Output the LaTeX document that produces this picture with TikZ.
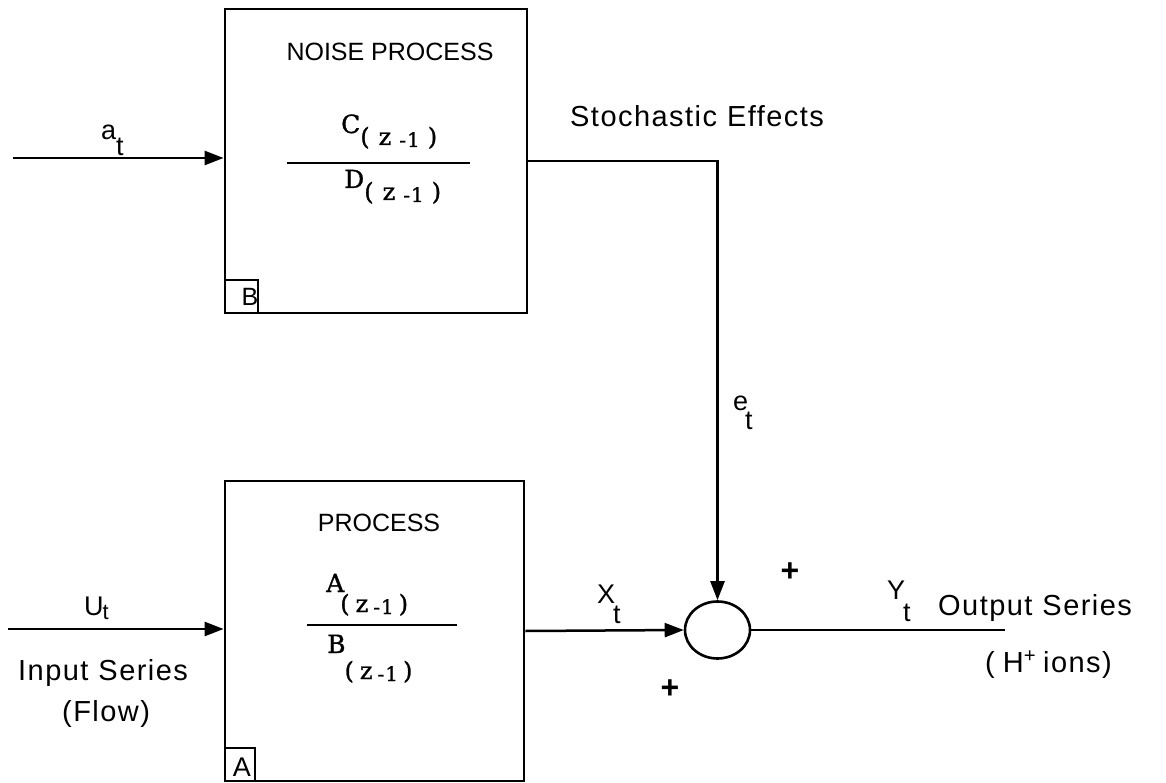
\documentclass[tikz,border=0pt]{standalone}
\usepackage{fontspec}
\newfontfamily\hv{Liberation Sans}
\newfontfamily\hvs[LetterSpace=5]{Liberation Sans}
\newfontfamily\fser[FakeBold=1.2]{DejaVu Serif}
\usetikzlibrary{arrows.meta,shapes.geometric}
\newcommand{\zsub}[4]{\raisebox{#1}{\fontsize{24}{28}\selectfont(\kern#2 z\kern#3\raisebox{-2pt}{\fontsize{20}{24}\selectfont -\kern1pt 1}\kern#4)}}
\begin{document}
\begin{tikzpicture}[x=1pt,y=-1pt,
  blk/.style={draw, line width=2.8pt, inner sep=0pt},
  conn/.style={line width=2.5pt, -{Triangle[length=19pt,width=14pt]}},
  wire/.style={line width=2.5pt},
  lbl/.style={anchor=base west, inner sep=0pt, font=\hvs\fontsize{29}{33}\selectfont},
  sym/.style={anchor=base west, inner sep=0pt, font=\hv\fontsize{27}{31}\selectfont},
  frm/.style={anchor=base west, inner sep=0pt, font=\fser\fontsize{25}{29}\selectfont},
  ttl/.style={inner sep=0pt, font=\hv\fontsize{25}{29}\selectfont},
  pls/.style={inner sep=0pt, font=\hv\bfseries\fontsize{32}{36}\selectfont}]
\useasboundingbox (0,0) rectangle (1166,783);

% blocks
\node[blk, minimum width=302pt, minimum height=304pt] (noise) at (376,161) {};
\node[blk, minimum width=299pt, minimum height=300pt] (proc) at (374.5,631) {};
\node[draw, ellipse, line width=2.6pt, minimum width=65pt, minimum height=57pt, inner sep=0pt] (sum) at (717.5,630) {};

% small corner boxes
\node[blk, line width=2pt, minimum width=33pt, minimum height=33pt, anchor=south west] (bbox) at (noise.south west) {};
\node[inner sep=0pt, font=\hv\fontsize{25}{29}\selectfont] (blab) at (250,297) {B};
\node[blk, line width=2pt, minimum width=30pt, minimum height=33pt, anchor=south west] (abox) at (proc.south west) {};
\node[inner sep=0pt, font=\hv\fontsize{27}{31}\selectfont] (alab) at (242,767) {A};

% titles
\node[ttl] (ntitle) at (390,52) {NOISE PROCESS};
\node[ttl] (ptitle) at (379,523) {PROCESS};

% transfer functions
\node[frm] (cnum) at (341,133) {C\zsub{-12pt}{9pt}{8pt}{8pt}};
\node[frm] (dden) at (344,188) {D\zsub{-12pt}{9pt}{8pt}{8pt}};
\draw[wire] (287,163) -- (470,163);
\node[frm] (anum) at (326,592) {A\kern-4pt\zsub{-20pt}{6pt}{5pt}{5pt}};
\node[frm] (bden) at (327,653) {B\kern-1pt\zsub{-26pt}{6pt}{5pt}{5pt}};
\draw[wire] (307,625) -- (457,625);

% connectors
\coordinate (ain) at (13,158);
\draw[conn] (ain) -- (ain -| noise.west);
\coordinate (uin) at (8,629);
\draw[conn] (uin) -- (uin -| proc.west);
\draw[conn] (noise.east) -| (sum.north);
\draw[conn] (proc.east) -- (sum.west);
\coordinate (yout) at (1005,630);
\draw[wire] (sum.east) -- (yout);

% signal labels
\node[sym] (at) at (101,140) {a\raisebox{-16pt}{t}};
\node[sym] (ut) at (84,615) {U\kern-1pt\raisebox{-4pt}{\fontsize{22}{26}\selectfont t}};
\node[sym] (xt) at (597,603) {X\kern-2pt\raisebox{-20pt}{t}};
\node[sym] (et) at (733,410) {e\kern-3pt\raisebox{-19pt}{t}};
\node[sym] (yt) at (887,599) {Y\kern-2pt\raisebox{-22pt}{t}};

\node[lbl] (stoch) at (570,127) {Stochastic\hspace{10pt}Effects};
\node[lbl] (outs) at (938,615) {Output\hspace{10pt}Series};
\node[lbl] (hions) at (985,672) {(\kern8pt H\textsuperscript{+}\kern7pt ions)};
\node[lbl] (ins) at (18,680) {Input\hspace{10pt}Series};
\node[lbl] (flow) at (62,721) {(Flow)};

\node[pls] (p1) at (790,572) {+};
\node[pls] (p2) at (670,689) {+};
\end{tikzpicture}
\end{document}
